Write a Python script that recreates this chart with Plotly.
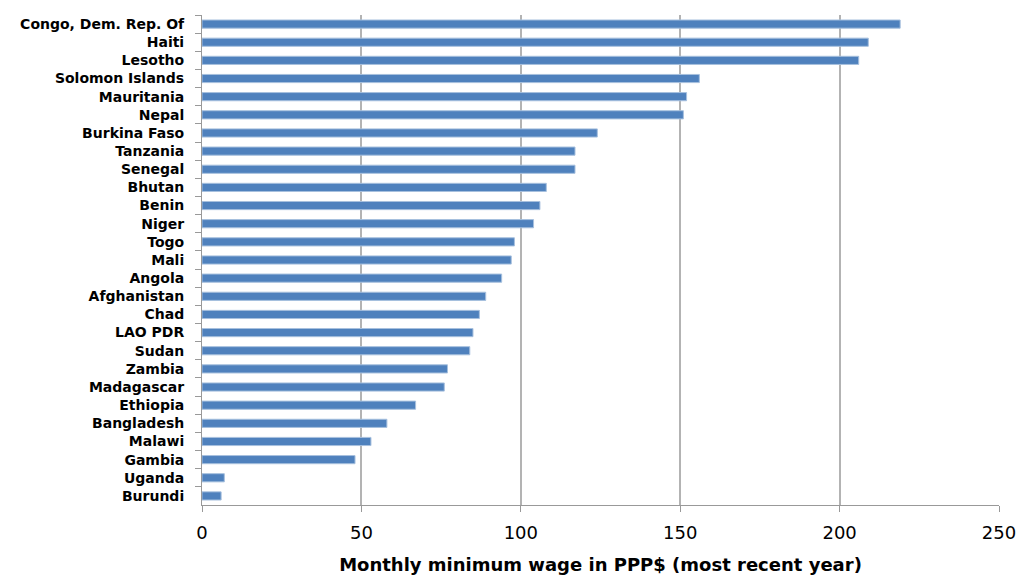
import plotly.graph_objects as go

countries = ["Congo, Dem. Rep. Of", "Haiti", "Lesotho", "Solomon Islands", "Mauritania", "Nepal",
             "Burkina Faso", "Tanzania", "Senegal", "Bhutan", "Benin", "Niger", "Togo", "Mali",
             "Angola", "Afghanistan", "Chad", "LAO PDR", "Sudan", "Zambia", "Madagascar",
             "Ethiopia", "Bangladesh", "Malawi", "Gambia", "Uganda", "Burundi"]
wages = [219, 209, 206, 156, 152, 151, 124, 117, 117, 108, 106, 104, 98, 97,
         94, 89, 87, 85, 84, 77, 76, 67, 58, 53, 48, 7, 6]
x_ticks = [0, 50, 100, 150, 200, 250]
x_title = "Monthly minimum wage in PPP$ (most recent year)"

fig = go.Figure(go.Bar(
    x=wages, y=countries, orientation="h",
    marker=dict(color="#4F81BD", line=dict(color="#A7C0DE", width=1)),
))

fig.update_layout(
    width=1018, height=577,
    margin=dict(l=202, r=19, t=15, b=72),
    paper_bgcolor="white", plot_bgcolor="white",
    bargap=0.55,
    showlegend=False,
    font=dict(family="DejaVu Sans", color="black"),
)
fig.update_xaxes(
    range=[0, 250], tickvals=x_ticks, ticktext=[str(v) for v in x_ticks],
    showgrid=True, gridcolor="#B3B3B3", gridwidth=1.5,
    showline=True, linecolor="#999999", linewidth=1,
    ticks="outside", ticklen=6, tickcolor="#999999",
    tickfont=dict(size=18, family="DejaVu Sans"),
    ticklabelstandoff=5,
    title=dict(text="<b>" + x_title + "</b>", font=dict(size=18, family="DejaVu Sans"), standoff=16),
    zeroline=False, automargin=False,
)
fig.update_yaxes(
    categoryorder="array", categoryarray=countries, autorange="reversed",
    showline=True, linecolor="#999999", linewidth=1,
    ticks="outside", ticklen=6, tickcolor="#999999", tickson="boundaries",
    tickfont=dict(size=14, family="DejaVu Sans", weight="bold"),
    ticklabelstandoff=14,
    showgrid=False, automargin=False,
)

fig.write_html("out.html", config={"displayModeBar": False},
               post_script="document.body.style.margin='0';")
